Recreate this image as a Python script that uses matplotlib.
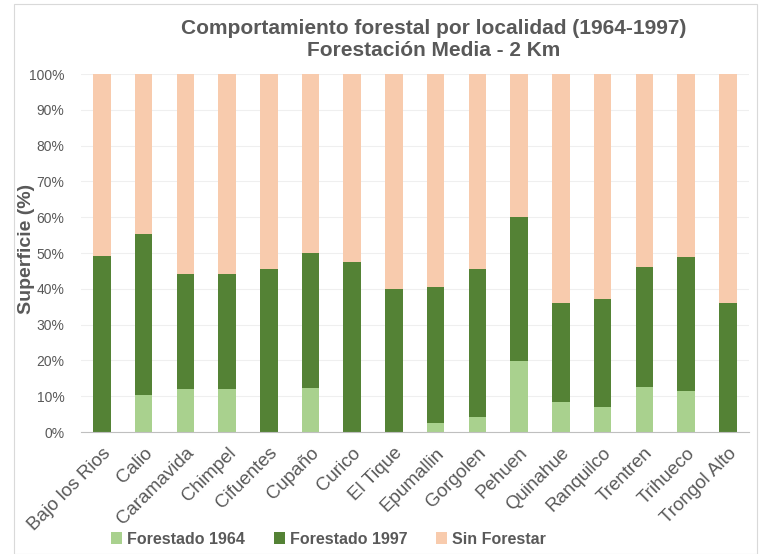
import matplotlib.pyplot as plt
from matplotlib.patches import Rectangle
from matplotlib.ticker import PercentFormatter

plt.rcParams['font.family'] = ['Liberation Sans', 'DejaVu Sans']

localidades = ['Bajo los Rios', 'Calio', 'Caramavida', 'Chimpel', 'Cifuentes', 'Cupaño',
               'Curico', 'El Tique', 'Epumallin', 'Gorgolen', 'Pehuen', 'Quinahue',
               'Ranquilco', 'Trentren', 'Trihueco', 'Trongol Alto']
# porcentajes de cada tramo de la barra
forestado_1964 = [0.0, 10.3, 12.1, 11.9, 0.0, 12.4, 0.0, 0.0, 2.4, 4.3, 19.9, 8.3, 7.1, 12.6, 11.4, 0.0]
forestado_1997 = [49.1, 45.0, 31.9, 32.1, 45.4, 37.6, 47.4, 40.0, 38.2, 41.3, 40.1, 27.8, 30.0, 33.4, 37.4, 36.1]
sin_forestar = [100 - a - b for a, b in zip(forestado_1964, forestado_1997)]

gris = '#595959'
c1964 = '#A9D18E'
c1997 = '#548235'
csin = '#F8CBAD'

fig = plt.figure(figsize=(7.64, 5.54), dpi=100)
ax = fig.add_axes([0.106, 0.2202, 0.874, 0.6462])

x = range(len(localidades))
ancho = 0.42
ax.bar(x, forestado_1964, ancho, color=c1964, label='Forestado 1964')
ax.bar(x, forestado_1997, ancho, bottom=forestado_1964, color=c1997, label='Forestado 1997')
base = [a + b for a, b in zip(forestado_1964, forestado_1997)]
ax.bar(x, sin_forestar, ancho, bottom=base, color=csin, label='Sin Forestar')

ax.set_xlim(-0.5, len(localidades) - 0.5)
ax.set_ylim(0, 100)
ax.set_yticks(range(0, 101, 10))
ax.yaxis.set_major_formatter(PercentFormatter(decimals=0))
ax.grid(axis='y', color='#EFEFEF', linewidth=0.8)
ax.set_axisbelow(True)
for s in ['top', 'right', 'left']:
    ax.spines[s].set_visible(False)
ax.spines['bottom'].set_color('#BFBFBF')
ax.tick_params(axis='both', length=0, colors=gris)
ax.tick_params(axis='y', labelsize=10, pad=12)
ax.set_xticks(list(x))
ax.set_xticklabels(localidades, rotation=45, ha='right', rotation_mode='anchor', fontsize=13.5, color=gris)
ax.tick_params(axis='x', pad=9)

fig.text(0.035, 0.55, 'Superficie (%)', rotation=90, ha='center', va='center',
         fontsize=14, fontweight='bold', color=gris)
fig.text(0.567, 1 - 28 / 554, 'Comportamiento forestal por localidad (1964-1997)', ha='center', va='center',
         fontsize=15, fontweight='bold', color=gris)
fig.text(0.567, 1 - 51 / 554, 'Forestación Media - 2 Km', ha='center', va='center',
         fontsize=15, fontweight='bold', color=gris)

leg = fig.legend(loc='center', bbox_to_anchor=(0.43, 1 - 539 / 554), ncol=3, frameon=False,
                 prop={'size': 11.5, 'weight': 'bold'}, handlelength=0.7, handleheight=0.7,
                 handletextpad=0.3, columnspacing=1.8)
for t in leg.get_texts():
    t.set_color(gris)

fig.patches.append(Rectangle((14 / 764, 0), 743 / 764, 550 / 554, transform=fig.transFigure,
                             fill=False, edgecolor='#D9D9D9', linewidth=0.8))

fig.savefig('out.png', dpi=100)
